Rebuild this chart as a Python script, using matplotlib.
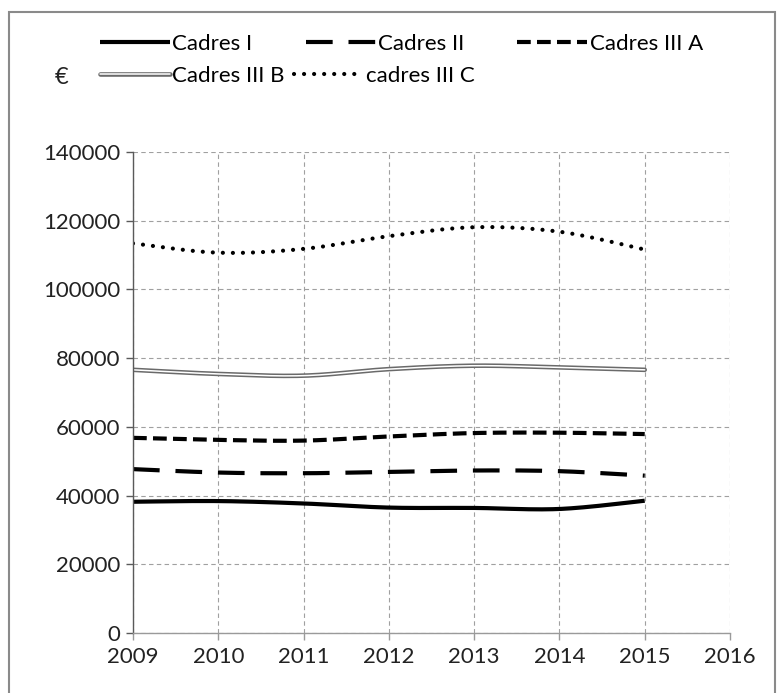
import numpy as np
import matplotlib
matplotlib.use("Agg")
import matplotlib.pyplot as plt
from matplotlib.lines import Line2D
from matplotlib.patches import Rectangle

plt.rcParams["font.family"] = ["Lato", "DejaVu Sans"]

# salaires annuels moyens par catégorie (en euros)
years = [2009, 2010, 2011, 2012, 2013, 2014, 2015]
cadres_1 = [38200, 38400, 37700, 36500, 36400, 36100, 38500]
cadres_2 = [47700, 46700, 46500, 46900, 47300, 47100, 45800]
cadres_3a = [56800, 56200, 56000, 57200, 58200, 58300, 57900]
cadres_3b = [76600, 75400, 74900, 76800, 77800, 77300, 76600]
cadres_3c = [113400, 110700, 111800, 115500, 118100, 116800, 111600]

labels = ["Cadres I", "Cadres II", "Cadres III A", "Cadres III B", "cadres III C"]
x_ticks = list(range(2009, 2017))
y_ticks = list(range(0, 140001, 20000))

FS = 16


def smooth(x, y, n=40):
    # courbe lissée façon Excel : Bézier cubique avec tangentes de Catmull-Rom
    p = np.column_stack([x, y]).astype(float)
    out = [p[:1]]
    t = np.linspace(0, 1, n)[1:, None]
    for i in range(len(p) - 1):
        p0 = p[i - 1] if i > 0 else p[i]
        p1, p2 = p[i], p[i + 1]
        p3 = p[i + 2] if i + 2 < len(p) else p[i + 1]
        c1 = p1 + (p2 - p0) / 6
        c2 = p2 - (p3 - p1) / 6
        seg = ((1 - t) ** 3) * p1 + 3 * ((1 - t) ** 2) * t * c1 \
            + 3 * (1 - t) * t ** 2 * c2 + t ** 3 * p2
        out.append(seg)
    pts = np.vstack(out)
    return pts[:, 0], pts[:, 1]


fig = plt.figure(figsize=(7.81, 6.93), dpi=100)
ax = fig.add_axes([133 / 781, 60 / 693, 597 / 781, 481 / 693])

grid_kw = dict(color="#a0a0a0", lw=0.8, ls=(0, (4, 3)))
ax.grid(True, **grid_kw)
ax.set_axisbelow(True)

lw = 3.0
styles = [
    dict(color="black", lw=lw, ls="-", solid_capstyle="butt"),
    dict(color="black", lw=lw, ls=(0, (6.4, 3.8)), dash_capstyle="butt"),
    dict(color="black", lw=lw, ls=(0, (3.3, 1.5)), dash_capstyle="butt"),
    None,
    dict(color="black", lw=lw, ls=(0, (0.01, 2.4)), dash_capstyle="round"),
]
series = [cadres_1, cadres_2, cadres_3a, cadres_3b, cadres_3c]

handles = []
for vals, st in zip(series, styles):
    xs, ys = smooth(years, vals)
    if st is None:
        # trait double : contour gris, cœur blanc
        outer = dict(color="#6a6a6a", lw=3.3, solid_capstyle="round")
        inner = dict(color="white", lw=1.1, solid_capstyle="round")
        ax.plot(xs, ys, **outer)
        ax.plot(xs, ys, **inner)
        handles.append((Line2D([], [], **outer), Line2D([], [], **inner)))
    else:
        ax.plot(xs, ys, **st)
        handles.append(Line2D([], [], **st))

ax.set_xlim(2009, 2016)
ax.set_ylim(0, 140000)
ax.set_xticks(x_ticks)
ax.set_yticks(y_ticks)
ax.set_xticklabels([str(v) for v in x_ticks])
ax.set_yticklabels([str(v) for v in y_ticks])

for side in ["top", "right"]:
    ax.spines[side].set_visible(False)
ax.spines["left"].set_color("#5a5a5a")
ax.spines["left"].set_linewidth(1.0)
ax.spines["bottom"].set_color("#9a9a9a")
ax.spines["bottom"].set_linewidth(1.0)
ax.tick_params(axis="y", direction="out", length=5, width=1.0, color="#5a5a5a",
               pad=4, labelsize=FS, labelcolor="#222222")
ax.tick_params(axis="x", direction="out", length=5, width=1.0, color="#9a9a9a",
               pad=5, labelsize=FS, labelcolor="#222222")

leg_kw = dict(frameon=False, fontsize=FS, handlelength=3.15, handletextpad=0.1,
              borderpad=0, borderaxespad=0, loc="center left")
fig.legend(handles[:3], labels[:3], ncol=3, columnspacing=2.4,
           bbox_to_anchor=(100 / 781, 1 - 44 / 693), **leg_kw)
fig.legend(handles[3:], labels[3:], ncol=2, columnspacing=0.4,
           bbox_to_anchor=(100 / 781, 1 - 76 / 693), **leg_kw)

fig.text(62 / 781, 1 - 78 / 693, "€", fontsize=17, ha="center", va="center",
         color="#222222")

# cadre gris autour du graphique
fig.patches.append(Rectangle((9 / 781, -0.02), 766 / 781, (693 - 12) / 693 + 0.02,
                             transform=fig.transFigure, fill=False,
                             edgecolor="#8a8a8a", lw=1.5))

fig.savefig("out.png", dpi=100)
